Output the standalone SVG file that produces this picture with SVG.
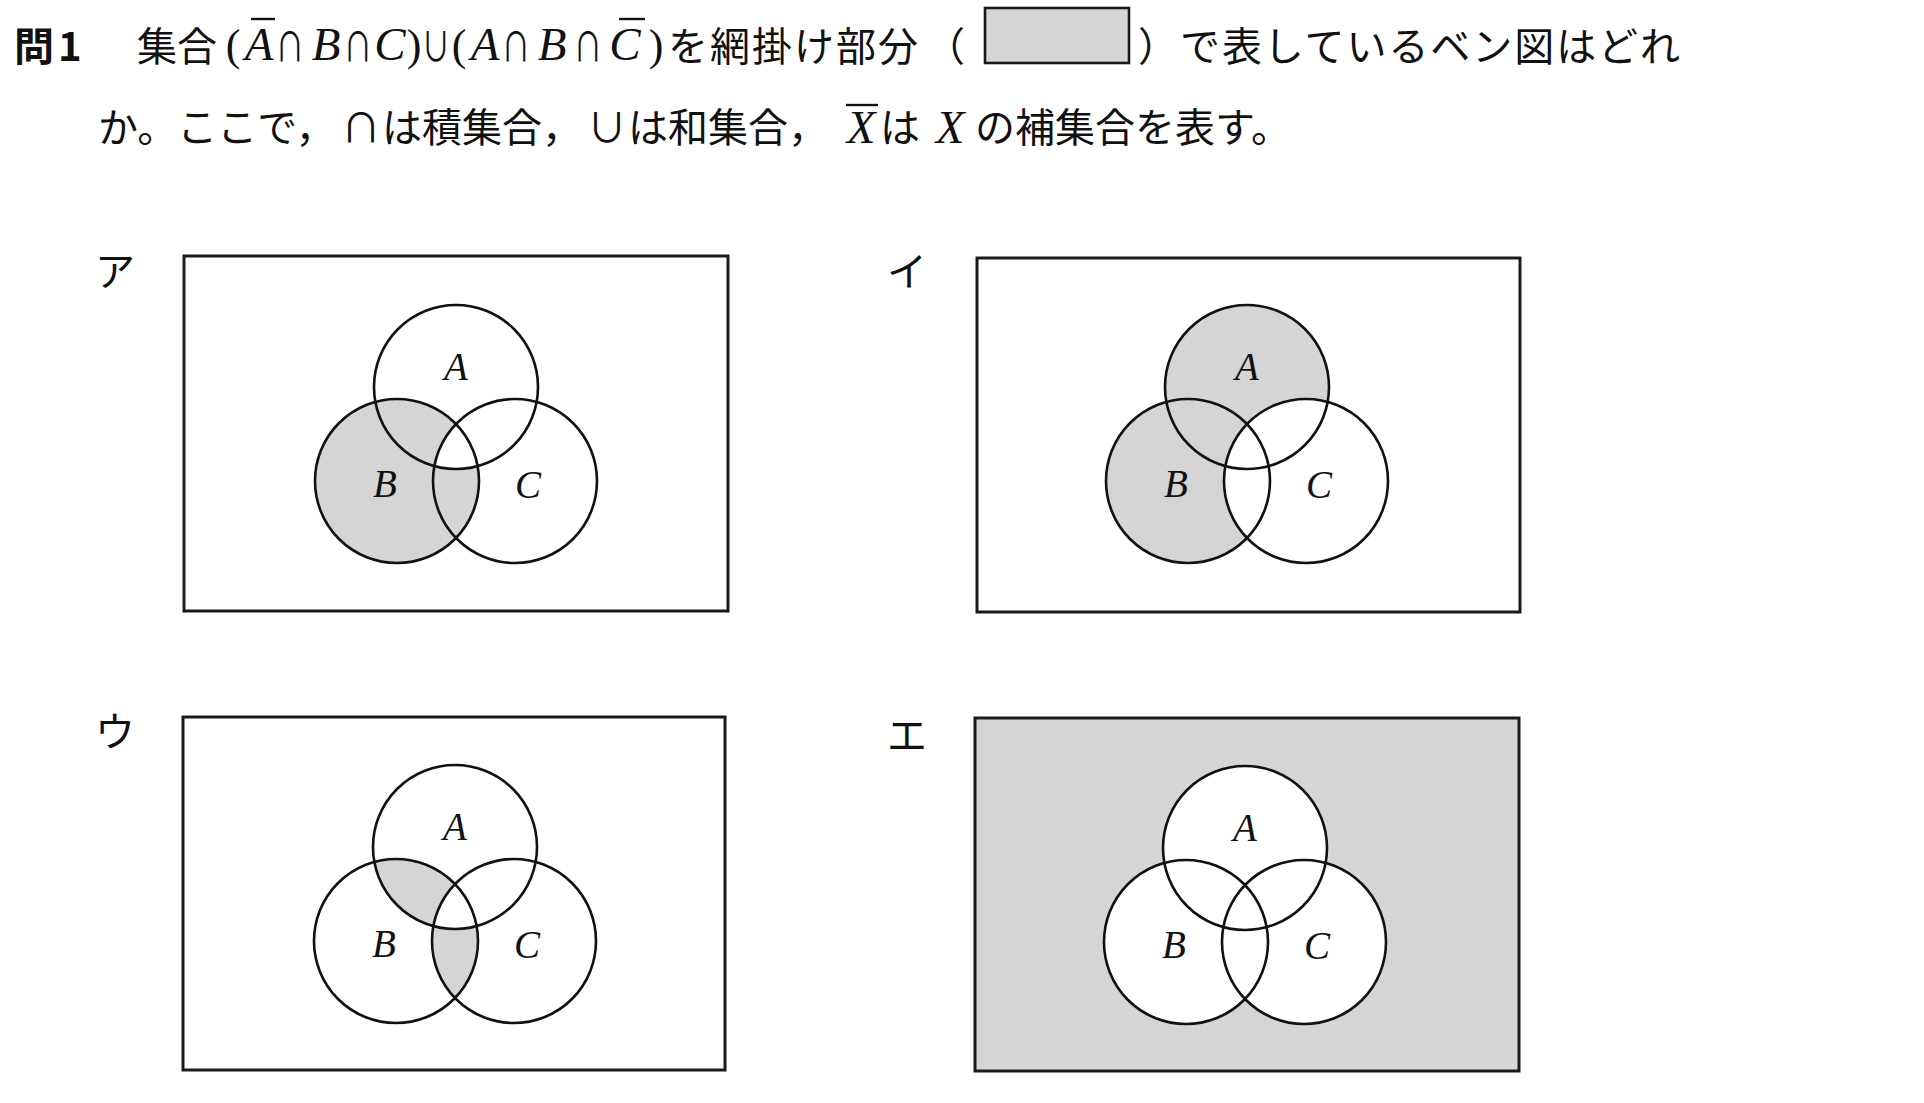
<svg xmlns="http://www.w3.org/2000/svg" width="1924" height="1103" viewBox="0 0 1924 1103">
<style>
.jp{font-family:"Noto Sans CJK JP","Noto Sans CJK SC",sans-serif;font-size:40px;fill:#111}
.jpb{font-family:"Noto Sans CJK JP",sans-serif;font-size:40px;font-weight:bold;fill:#111}
.sym{font-family:"Noto Sans CJK JP","DejaVu Sans",sans-serif;font-size:40px;fill:#111;text-anchor:middle}
.it{font-family:"Liberation Serif",serif;font-style:italic;font-size:47px;fill:#111;text-anchor:middle}
.par{font-family:"Liberation Serif",serif;font-size:44px;fill:#111;text-anchor:middle}
.lbl{font-family:"Liberation Serif",serif;font-style:italic;font-size:39px;fill:#111;text-anchor:middle}
.frame{fill:none;stroke:#1a1a1a;stroke-width:3}
.ring{fill:none;stroke:#111;stroke-width:2.6}
.sh{fill:#d5d5d5}
.wh{fill:#fff}
.ov{stroke:#111;stroke-width:2.4}
</style>
<defs>
<clipPath id="cA" clipPathUnits="userSpaceOnUse"><circle cx="0" cy="0" r="82"/></clipPath>
<clipPath id="cB" clipPathUnits="userSpaceOnUse"><circle cx="-59" cy="94" r="82"/></clipPath>
<clipPath id="cC" clipPathUnits="userSpaceOnUse"><circle cx="59" cy="94" r="82"/></clipPath>
<g id="rings">
<circle class="ring" cx="0" cy="0" r="82"/>
<circle class="ring" cx="-59" cy="94" r="82"/>
<circle class="ring" cx="59" cy="94" r="82"/>
<text class="lbl" x="0" y="-7">A</text>
<text class="lbl" x="-71" y="110">B</text>
<text class="lbl" x="72" y="111">C</text>
</g>
</defs>
<rect width="1924" height="1103" fill="#fff"/>

<g id="question">
<text class="jpb" x="14" y="61">問</text>
<text class="jpb" x="58" y="61">1</text>
<text class="jp" x="137" y="61">集合</text>
<text class="par" x="233" y="60">(</text>
<text class="it" x="259" y="60">A</text>
<line class="ov" x1="251" y1="19" x2="275" y2="19"/>
<text class="sym" transform="translate(290,61) scale(0.72,1)">∩</text>
<text class="it" x="326" y="60">B</text>
<text class="sym" transform="translate(358,61) scale(0.72,1)">∩</text>
<text class="it" x="390" y="60">C</text>
<text class="par" x="414" y="60">)</text>
<text class="sym" transform="translate(436,61) scale(0.72,1)">∪</text>
<text class="par" x="459" y="60">(</text>
<text class="it" x="485" y="60">A</text>
<text class="sym" transform="translate(516,61) scale(0.72,1)">∩</text>
<text class="it" x="552" y="60">B</text>
<text class="sym" transform="translate(588,61) scale(0.72,1)">∩</text>
<text class="it" x="625" y="60">C</text>
<line class="ov" x1="619" y1="19" x2="645" y2="19"/>
<text class="par" x="656" y="60">)</text>
<text class="jp" x="668" y="61" textLength="250" lengthAdjust="spacing">を網掛け部分</text>
<text class="jp" x="925" y="61">（</text>
<rect x="985" y="8" width="144" height="55" fill="#d5d5d5" stroke="#1a1a1a" stroke-width="2.6"/>
<text class="jp" x="1138" y="61">）</text>
<text class="jp" x="1180" y="61" textLength="500" lengthAdjust="spacing">で表しているベン図はどれ</text>

<text class="jp" x="98" y="142">か。ここで，</text>
<text class="sym" x="361" y="142">∩</text>
<text class="jp" x="382" y="142">は積集合，</text>
<text class="sym" x="607" y="142">∪</text>
<text class="jp" x="628" y="142">は和集合，</text>
<text class="it" x="861" y="143">X</text>
<line class="ov" x1="846" y1="105" x2="878" y2="105"/>
<text class="jp" x="880" y="142">は</text>
<text class="it" x="950" y="143">X</text>
<text class="jp" x="975" y="142">の補集合を表す。</text>
</g>

<g id="venn-a">
<text class="jp" x="95" y="286">ア</text>
<rect class="frame" x="184" y="256" width="544" height="355"/>
<g transform="translate(456,387)">
<circle class="sh" cx="-59" cy="94" r="82"/>
<g clip-path="url(#cA)"><g clip-path="url(#cC)"><circle class="wh" cx="-59" cy="94" r="82"/></g></g>
<use href="#rings"/>
</g>
</g>

<g id="venn-i">
<text class="jp" x="887" y="286">イ</text>
<rect class="frame" x="977" y="258" width="543" height="354"/>
<g transform="translate(1247,387)">
<circle class="sh" cx="0" cy="0" r="82"/>
<circle class="sh" cx="-59" cy="94" r="82"/>
<circle class="wh" cx="59" cy="94" r="82"/>
<use href="#rings"/>
</g>
</g>

<g id="venn-u">
<text class="jp" x="95" y="746">ウ</text>
<rect class="frame" x="183" y="717" width="542" height="353"/>
<g transform="translate(455,847)">
<g clip-path="url(#cB)"><circle class="sh" cx="0" cy="0" r="82"/><circle class="sh" cx="59" cy="94" r="82"/></g>
<g clip-path="url(#cA)"><g clip-path="url(#cC)"><circle class="wh" cx="-59" cy="94" r="82"/></g></g>
<use href="#rings"/>
</g>
</g>

<g id="venn-e">
<text class="jp" x="887" y="750">エ</text>
<rect x="975" y="718" width="544" height="353" fill="#d5d5d5" stroke="#1a1a1a" stroke-width="3"/>
<g transform="translate(1245,848)">
<circle class="wh" cx="0" cy="0" r="82"/>
<circle class="wh" cx="-59" cy="94" r="82"/>
<circle class="wh" cx="59" cy="94" r="82"/>
<use href="#rings"/>
</g>
</g>

<g id="connectors"></g>
</svg>
